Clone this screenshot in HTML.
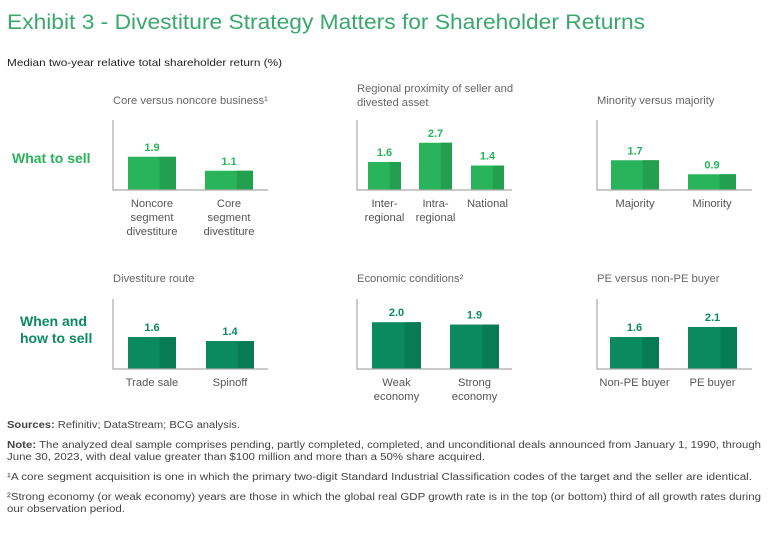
<!DOCTYPE html>
<html><head><meta charset="utf-8"><style>
body{margin:0;background:#fff;width:768px;height:530px;overflow:hidden;font-family:"Liberation Sans",sans-serif}
svg text{font-family:"Liberation Sans",sans-serif}
</style></head><body>
<svg id="c" width="768" height="530">
<text x="7" y="29" font-size="21" fill="#3aa76d" textLength="638" lengthAdjust="spacingAndGlyphs">Exhibit 3 - Divestiture Strategy Matters for Shareholder Returns</text>
<text x="7" y="66" font-size="10.5" fill="#222" textLength="275" lengthAdjust="spacingAndGlyphs">Median two-year relative total shareholder return (%)</text>
<text x="12" y="163" font-size="14" font-weight="bold" fill="#29b35a">What to sell</text>
<text x="20" y="326" font-size="14" font-weight="bold" fill="#0b8a5f">When and</text>
<text x="20" y="343" font-size="14" font-weight="bold" fill="#0b8a5f">how to sell</text>
<g id="panels"></g>
<g font-size="10" fill="#444">
<text x="7" y="428" textLength="233" lengthAdjust="spacingAndGlyphs"><tspan font-weight="bold">Sources:</tspan> Refinitiv; DataStream; BCG analysis.</text>
<text x="7" y="448" textLength="754" lengthAdjust="spacingAndGlyphs"><tspan font-weight="bold">Note:</tspan> The analyzed deal sample comprises pending, partly completed, completed, and unconditional deals announced from January 1, 1990, through</text>
<text x="7" y="460" textLength="478" lengthAdjust="spacingAndGlyphs">June 30, 2023, with deal value greater than $100 million and more than a 50% share acquired.</text>
<text x="7" y="480" textLength="745" lengthAdjust="spacingAndGlyphs">¹A core segment acquisition is one in which the primary two-digit Standard Industrial Classification codes of the target and the seller are identical.</text>
<text x="7" y="500" textLength="754" lengthAdjust="spacingAndGlyphs">²Strong economy (or weak economy) years are those in which the global real GDP growth rate is in the top (or bottom) third of all growth rates during</text>
<text x="7" y="512" textLength="118" lengthAdjust="spacingAndGlyphs">our observation period.</text>
</g>
</svg>
<script>
const panelTitles=[["Core versus noncore business¹"],["Regional proximity of seller and","divested asset"],["Minority versus majority"],["Divestiture route"],["Economic conditions²"],["PE versus non-PE buyer"]];
const cats1=[["Noncore","segment","divestiture"],["Core","segment","divestiture"]];
const vals1=[1.9,1.1];
const cats2=[["Inter-","regional"],["Intra-","regional"],["National"]];
const vals2=[1.6,2.7,1.4];
const cats3=[["Majority"],["Minority"]];
const vals3=[1.7,0.9];
const cats4=[["Trade sale"],["Spinoff"]];
const vals4=[1.6,1.4];
const cats5=[["Weak","economy"],["Strong","economy"]];
const vals5=[2.0,1.9];
const cats6=[["Non-PE buyer"],["PE buyer"]];
const vals6=[1.6,2.1];
const NS="http://www.w3.org/2000/svg";
const g=document.getElementById('panels');
function el(t,a,p){const e=document.createElementNS(NS,t);for(const k in a)e.setAttribute(k,a[k]);(p||g).appendChild(e);return e;}
const layout=[
 {ax:113,end:268,base:190,top:120,ty:[104],s:17.5,bx:[128,205],bw:48,c:"#29b35a",d:"#22a04f",lc:"#29b35a"},
 {ax:357,end:512,base:190,top:120,ty:[92,106],s:17.5,bx:[368,419,471],bw:33,c:"#29b35a",d:"#22a04f",lc:"#29b35a"},
 {ax:597,end:752,base:190,top:120,ty:[104],s:17.5,bx:[611,688],bw:48,c:"#29b35a",d:"#22a04f",lc:"#29b35a"},
 {ax:113,end:268,base:369,top:299,ty:[282],s:20,bx:[128,206],bw:48,c:"#0b8a5f",d:"#077c54",lc:"#0b8a5f"},
 {ax:357,end:512,base:369,top:299,ty:[282],s:23.4,bx:[372,450],bw:49,c:"#0b8a5f",d:"#077c54",lc:"#0b8a5f"},
 {ax:597,end:752,base:369,top:299,ty:[282],s:20,bx:[610,688],bw:49,c:"#0b8a5f",d:"#077c54",lc:"#0b8a5f"}];
const data=[[cats1,vals1],[cats2,vals2],[cats3,vals3],[cats4,vals4],[cats5,vals5],[cats6,vals6]];
data.forEach(([cats,vals],i)=>{
 const L=layout[i];
 const y=v=>L.base-v*L.s;
 panelTitles[i].forEach((t,j)=>{const e=el('text',{x:L.ax,y:L.ty[j],'font-size':11.2,fill:'#666'});e.textContent=t;
  
  });
 vals.forEach((v,k)=>{
  const x=L.bx[k];
  const r=el('rect',{x:x,y:y(v),width:L.bw,height:L.base-y(v),fill:L.c});
  
  
  const r2=el('rect',{x:x+L.bw*0.66,y:y(v),width:L.bw*0.34,height:L.base-y(v),fill:L.d});
  
  
  const t=el('text',{x:x+L.bw/2,y:y(v)-6,'font-size':11,'font-weight':'bold',fill:L.lc,'text-anchor':'middle'});
  t.textContent=v.toFixed(1);
  
  
  cats[k].forEach((c,m)=>{const ct=el('text',{x:x+L.bw/2,y:L.base+17+m*14,'font-size':11.2,fill:'#555','text-anchor':'middle'});ct.textContent=c;
   
   });
 });
 const a=el('path',{d:`M${L.ax} ${L.top}V${L.base}H${L.end}`,fill:'none',stroke:'#aaa','stroke-width':1.2});
 
 
});
</script>
</body></html>
